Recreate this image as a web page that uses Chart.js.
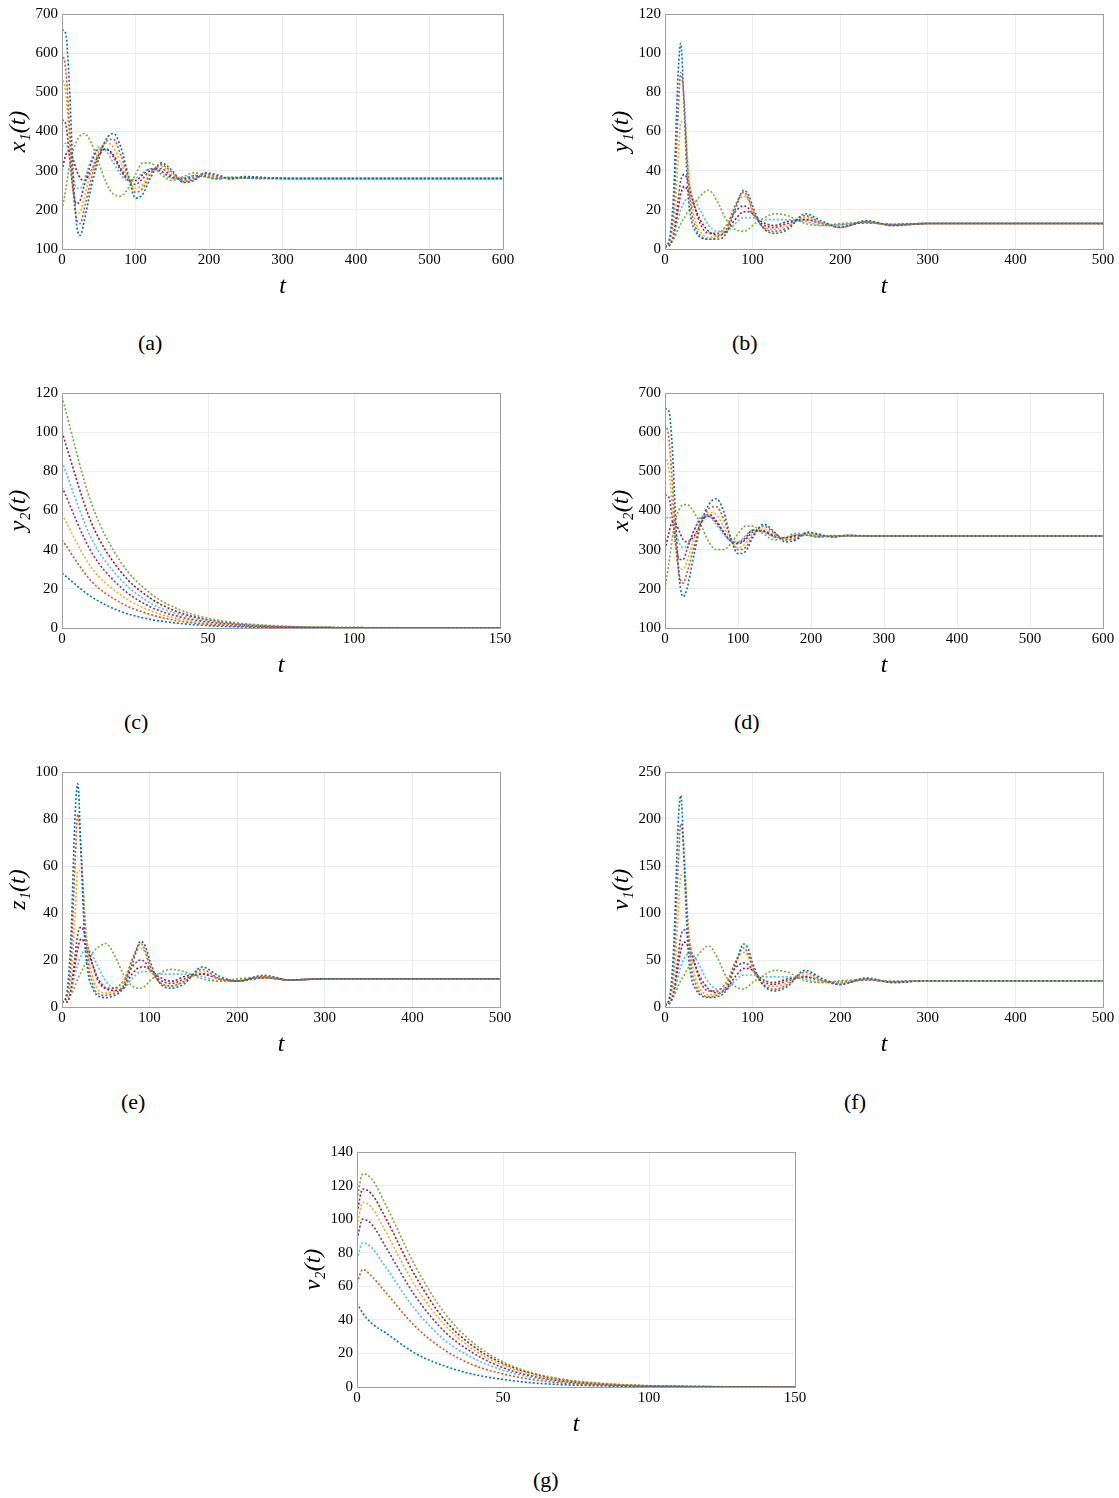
<!DOCTYPE html>
<html><head><meta charset="utf-8">
<script src="https://cdn.jsdelivr.net/npm/chart.js@4"></script>
<style>
body{margin:0;background:#fff;width:1119px;height:1498px;position:relative;overflow:hidden}
.c{position:absolute}
.lab{position:absolute;font-family:"Liberation Serif",serif;font-size:22px;color:#000}
</style></head><body>
<canvas id="ca" class="c"></canvas><canvas id="cb" class="c"></canvas><canvas id="cc" class="c"></canvas>
<canvas id="cd" class="c"></canvas><canvas id="ce" class="c"></canvas><canvas id="cf" class="c"></canvas><canvas id="cg" class="c"></canvas>
<div class="lab" style="left:138px;top:330px">(a)</div>
<div class="lab" style="left:732px;top:330px">(b)</div>
<div class="lab" style="left:124px;top:709px">(c)</div>
<div class="lab" style="left:734px;top:709px">(d)</div>
<div class="lab" style="left:121px;top:1089px">(e)</div>
<div class="lab" style="left:844px;top:1089px">(f)</div>
<div class="lab" style="left:533px;top:1467px">(g)</div>
<script>
const colors=['#0072BD','#D95319','#EDB120','#7E2F8E','#77AC30','#4DBEEE','#A2142F'];
const tOsc1=[0,5,10,15,20,25,30,40,50,60,70,80,90,100,110,120,135,150,165,180,195,210,230,250,280,320,400,600];
const tOsc2=[0,5,10,15,18,22,26,30,35,40,50,60,70,80,90,95,100,110,125,140,160,180,200,230,260,300,350,500];
const tDecayY=[0,10,20,30,40,50,60,70,80,100,150];
const tDecayV=[0,2,5,10,20,30,40,50,60,70,80,100,150];
const x1Series=[
[660,650,520,300,160,135,170,260,330,380,395,360,290,230,240,280,320,300,270,275,295,290,280,285,282,280,280,280],
[600,560,420,260,175,165,200,280,340,375,380,340,285,245,255,290,315,295,272,278,292,287,279,284,281,280,280,280],
[540,500,380,250,190,195,230,300,350,370,360,320,280,255,265,295,310,290,275,280,290,285,279,283,281,280,280,280],
[430,420,340,250,215,225,260,320,355,355,335,300,275,265,280,300,305,285,277,282,288,284,280,282,281,280,280,280],
[200,250,310,350,375,390,395,370,320,270,240,235,255,290,320,320,290,275,285,295,285,278,284,281,280,280,280,280],
[360,370,340,290,255,255,275,330,360,350,320,290,275,280,295,305,295,280,282,288,284,280,282,281,280,280,280,280],
[300,340,350,330,300,280,275,300,340,355,340,305,280,275,290,305,298,282,280,287,285,280,282,281,280,280,280,280]];
const y1Series=[
[1,5,30,90,105,70,30,15,9,6,5,5,8,20,30,28,22,12,8,10,18,14,11,14.5,12,13,13,13],
[1,4,20,70,90,75,40,20,11,7,5,6,10,22,29,26,20,12,9,11,17,13,11,14,12,13,13,13],
[1,3,12,45,65,65,45,25,14,9,6,7,12,22,27,25,19,12,10,12,16,13,12,14,12,13,13,13],
[1,2,8,25,35,38,35,28,20,13,8,8,12,19,22,21,18,13,11,13,15,13,12,13.5,12.5,13,13,13],
[1,2,5,10,13,16,19,21,24,27,30,24,15,10,9,10,12,15,18,17,13,12,13,13.5,12.5,13,13,13],
[1,2,6,15,20,24,26,26,24,20,12,9,9,13,16,16,16,15,15,15,14,12,12.5,13.5,12.5,13,13,13],
[1,2,7,20,28,32,30,26,20,15,9,7,9,15,19,19,18,14,12,14,15,13,12,13.5,12.5,13,13,13]];
const y2Series=[
[28,16,8.5,4.5,2.4,1.2,0.6,0.3,0.2,0,0],
[45,24,13,7,3.6,1.9,1,0.5,0.3,0.1,0],
[58,31,17,9,4.7,2.5,1.3,0.7,0.3,0.1,0],
[72,39,21,11,5.8,3,1.6,0.8,0.4,0.1,0],
[118,64,34,18,9.5,5,2.6,1.4,0.7,0.2,0],
[85,46,25,13,7,3.6,1.9,1,0.5,0.1,0],
[100,54,29,15.5,8,4.2,2.2,1.2,0.6,0.2,0]];
const x2Series=[
[660,655,560,360,220,180,200,290,370,415,430,400,330,290,295,330,365,345,320,325,345,340,332,337,335,335,335,335],
[620,590,470,310,230,215,240,310,370,405,410,380,330,300,305,335,360,342,325,328,343,338,333,336,335,335,335,335],
[540,510,410,300,250,250,270,330,375,395,390,360,325,305,315,340,352,338,327,330,340,337,333,336,335,335,335,335],
[440,435,380,310,275,275,300,350,380,385,370,345,322,315,325,345,348,336,330,333,339,336,334,336,335,335,335,335],
[200,260,330,380,405,415,415,395,360,320,300,300,315,340,360,360,340,325,332,342,337,332,336,335,335,335,335,335],
[370,385,370,340,315,305,310,350,385,385,365,340,322,320,335,350,345,332,330,338,337,333,335,335,335,335,335,335],
[300,340,370,365,345,325,320,335,370,390,375,345,322,318,330,350,347,333,330,337,337,333,335,335,335,335,335,335]];
const z1Series=[
[2,5,28,82,95,62,28,14,8,5,4,5,8,18,28,26,20,11,8,10,17,13,11,13.5,11.5,12,12,12],
[2,4,18,62,82,66,36,18,10,6,5,6,9,20,27,24,18,11,9,11,16,12,11,13,11.5,12,12,12],
[2,3,11,40,58,58,40,22,13,8,6,7,11,20,25,23,17,11,9,11,15,12,11,13,11.5,12,12,12],
[2,2,7,22,31,34,31,25,18,12,8,8,11,17,20,19,16,12,10,12,14,12,11,12.5,11.5,12,12,12],
[2,2,5,9,12,15,18,20,23,25,27,22,14,9,8,9,11,14,16,15,12,11,12,12.5,11.5,12,12,12],
[2,2,6,14,18,22,24,24,22,18,11,8,8,12,15,15,15,14,14,14,13,11,11.5,12.5,11.5,12,12,12],
[2,2,6,18,25,29,27,23,18,13,8,7,8,14,17,17,16,13,11,13,14,12,11,12.5,11.5,12,12,12]];
const v1Series=[
[2,10,65,195,225,150,65,32,19,13,10,11,18,43,67,62,47,26,17,22,39,30,24,31,26,28,28,28],
[2,8,43,150,195,160,86,43,24,15,11,13,22,47,63,56,43,26,19,24,37,28,24,30,26,28,28,28],
[2,6,26,97,140,140,97,54,30,19,13,15,26,47,58,54,41,26,22,26,34,28,26,30,26,28,28,28],
[2,4,17,54,75,82,75,60,43,28,17,17,26,41,47,45,39,28,24,28,32,28,26,29,27,28,28,28],
[2,4,11,22,28,34,41,45,52,58,65,52,32,22,19,22,26,32,39,37,28,26,28,29,27,28,28,28],
[2,4,13,32,43,52,56,56,52,43,26,19,19,28,34,34,34,32,32,32,30,26,27,29,27,28,28,28],
[2,4,15,43,60,69,65,56,43,32,19,15,19,32,41,41,39,30,26,30,32,28,26,29,27,28,28,28]];
const v2Series=[
[50,44,38,32,20,12.5,7.5,4.5,2.5,1.4,0.8,0.2,0],
[62,70,66,56,36,22,13,7.8,4.4,2.4,1.4,0.4,0],
[96,110,107,92,60,37,22,13,7.3,4,2.3,0.7,0],
[88,100,97,83,54,33,20,11.5,6.5,3.6,2,0.6,0],
[112,127,124,108,72,44,26,15,8.5,4.8,2.7,0.8,0],
[76,86,83,71,46,28,17,10,5.6,3.1,1.7,0.5,0],
[104,118,115,100,66,40,24,14,8,4.4,2.5,0.7,0]];

const boxPlugin={id:'box',afterDraw(ch){const a=ch.chartArea,c=ch.ctx;c.save();c.strokeStyle='#a0a0a0';c.lineWidth=1;c.strokeRect(a.left+0.5,a.top+0.5,a.right-a.left,a.bottom-a.top);c.restore();}};
const tickFont={family:'Liberation Serif',size:15};
function make(id,plot,T,series,xr,yr,ylab){
  const [L,Tp,R,B]=plot;const padR=16,padT=10,yW=62,xH=56;
  const cv=document.getElementById(id);
  const w=R-L+yW+padR,h=B-Tp+padT+xH;
  cv.style.left=(L-yW)+'px';cv.style.top=(Tp-padT)+'px';cv.style.width=w+'px';cv.style.height=h+'px';
  cv.width=w;cv.height=h;
  new Chart(cv,{type:'line',plugins:[boxPlugin],
    data:{datasets:series.map((s,i)=>({data:s.map((v,j)=>({x:T[j],y:v})),borderColor:colors[i%7],borderWidth:1.6,borderDash:[2,2],pointRadius:0,cubicInterpolationMode:'monotone',fill:false}))},
    options:{responsive:false,animation:false,devicePixelRatio:1,layout:{padding:{right:padR,top:padT,left:0,bottom:0}},
      plugins:{legend:{display:false},tooltip:{enabled:false}},
      scales:{
        x:{type:'linear',min:xr[0],max:xr[1],ticks:{stepSize:xr[2],color:'#000',font:tickFont,padding:2,maxRotation:0},grid:{color:'#ececec',drawTicks:false},border:{display:false},
          title:{display:true,text:'t',color:'#000',font:{family:'Liberation Serif',size:24,style:'italic'},padding:{top:0}},
          afterFit(s){s.height=xH;}},
        y:{min:yr[0],max:yr[1],ticks:{stepSize:yr[2],color:'#000',font:tickFont,padding:4},grid:{color:'#ececec',drawTicks:false},border:{display:false},
          title:{display:true,text:ylab,color:'#000',font:{family:'Liberation Serif',size:24,style:'italic'},padding:{bottom:2}},
          afterFit(s){s.width=yW;}}
      }}});
}
make('ca',[62,11,503,249],tOsc1,x1Series,[0,600,100],[100,700,100],'x₁(t)');
make('cb',[665,11,1103,249],tOsc2,y1Series,[0,500,100],[0,120,20],'y₁(t)');
make('cc',[62,390,500,628],tDecayY,y2Series,[0,150,50],[0,120,20],'y₂(t)');
make('cd',[665,390,1103,628],tOsc1,x2Series,[0,600,100],[100,700,100],'x₂(t)');
make('ce',[62,769,500,1007],tOsc2,z1Series,[0,500,100],[0,100,20],'z₁(t)');
make('cf',[665,769,1103,1007],tOsc2,v1Series,[0,500,100],[0,250,50],'v₁(t)');
make('cg',[357,1149,795,1387],tDecayV,v2Series,[0,150,50],[0,140,20],'v₂(t)');
</script></body></html>
